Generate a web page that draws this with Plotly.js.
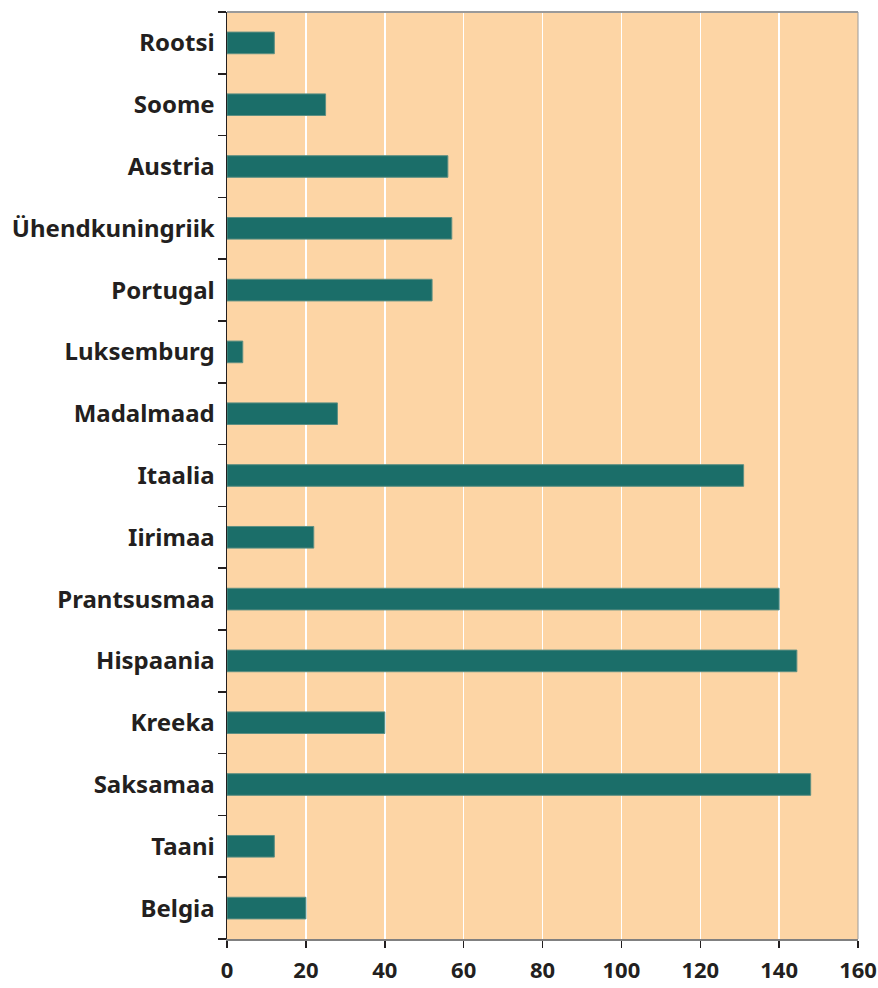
<!DOCTYPE html>
<html>
<head>
<meta charset="utf-8">
<script src="https://cdn.plot.ly/plotly-3.0.1.min.js"></script>
<style>html,body{margin:0;padding:0;background:#fff;}#chart{width:878px;height:988px;}</style>
</head>
<body>
<div id="chart"></div>
<script>
const countries = ["Belgia","Taani","Saksamaa","Kreeka","Hispaania","Prantsusmaa","Iirimaa","Itaalia","Madalmaad","Luksemburg","Portugal","Ühendkuningriik","Austria","Soome","Rootsi"];
const values = [20, 12, 148, 40, 144.5, 140, 22, 131, 28, 4, 52, 57, 56, 25, 12];
const xTicks = [0, 20, 40, 60, 80, 100, 120, 140, 160];

const trace = {
  type: "bar",
  orientation: "h",
  y: countries,
  x: values,
  width: 0.35,
  marker: {color: "#1b6e69", line: {color: "#5e8f82", width: 1}},
  hoverinfo: "x+y"
};

const layout = {
  width: 878, height: 988,
  margin: {l: 227, r: 20, t: 12, b: 49},
  paper_bgcolor: "#ffffff",
  plot_bgcolor: "#fdd5a5",
  showlegend: false,
  font: {family: "Noto Sans, Open Sans, sans-serif", color: "#231f20"},
  xaxis: {
    range: [0, 160],
    tickvals: xTicks,
    ticktext: xTicks.map(String),
    showgrid: true, gridcolor: "#ffffff", gridwidth: 1.5,
    zeroline: false,
    showline: true, linecolor: "#808080", linewidth: 2,
    ticks: "outside", ticklen: 7, tickcolor: "#231f20", tickwidth: 1.5,
    ticklabelstandoff: 4,
    tickfont: {size: 22, family: "Noto Sans", weight: 700, color: "#231f20"},
    fixedrange: true
  },
  yaxis: {
    type: "category",
    categoryorder: "array", categoryarray: countries,
    range: [-0.5, 14.5],
    showgrid: false, zeroline: false,
    showline: true, linecolor: "#231f20", linewidth: 1.5,
    ticks: "outside", tickson: "boundaries", ticklen: 8, tickcolor: "#231f20", tickwidth: 1.5,
    ticklabelstandoff: 6,
    tickfont: {size: 24, family: "Noto Sans", weight: 700, color: "#231f20"},
    fixedrange: true
  },
  shapes: [
    {type: "line", xref: "paper", yref: "paper", x0: 0, x1: 1, y0: 1, y1: 1, line: {color: "#9a9a9a", width: 2}},
    {type: "line", xref: "paper", yref: "paper", x0: 1, x1: 1, y0: 0, y1: 1, line: {color: "#9a9a9a", width: 1}}
  ]
};

Plotly.newPlot("chart", [trace], layout, {displayModeBar: false, staticPlot: true});
</script>
</body>
</html>
